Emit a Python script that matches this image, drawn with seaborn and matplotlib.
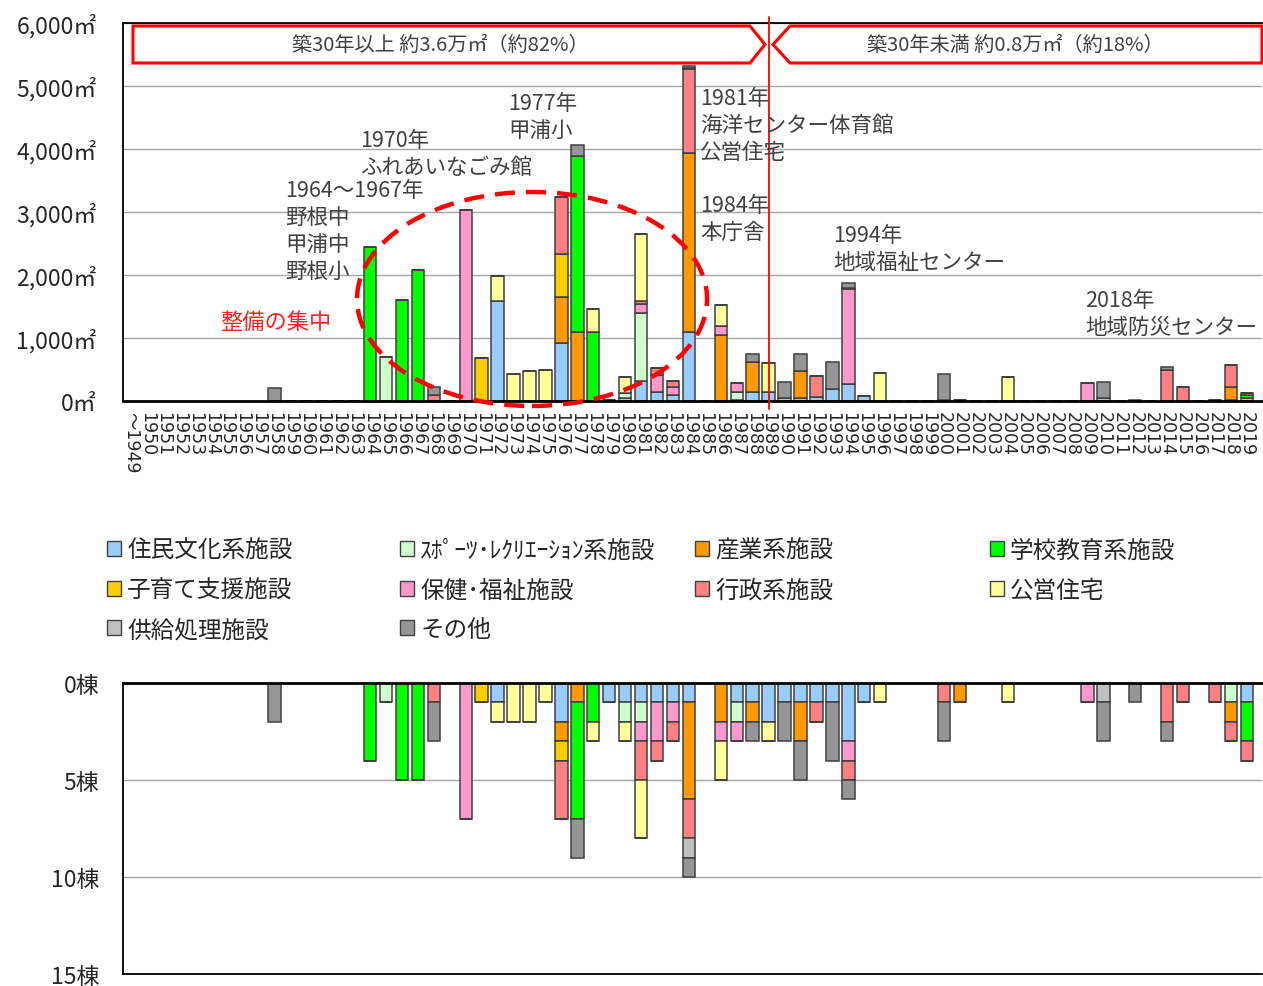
import matplotlib
matplotlib.use("Agg")
import matplotlib.pyplot as plt
import numpy as np
import pandas as pd
import seaborn as sns
from matplotlib.patches import Patch, Polygon, Ellipse

# ---- categories (x axis) ----
years = ["～1949"] + [str(y) for y in range(1950, 2020)]

# ---- facility types, stacking order bottom -> top ----
categories = ["住民文化系施設", "ｽﾎﾟｰﾂ･ﾚｸﾘｴｰｼｮﾝ系施設", "産業系施設", "学校教育系施設",
              "子育て支援施設", "保健･福祉施設", "行政系施設", "公営住宅",
              "供給処理施設", "その他"]
colors = ["#99CCFF", "#CCFFCC", "#FF9900", "#00FF00", "#FFCC00",
          "#FF99CC", "#FF8080", "#FFFF99", "#C0C0C0", "#969696"]

# ---- floor area by construction year (m2) ----
area_culture = {1972: 1580, 1976: 915, 1979: 15, 1980: 40, 1981: 325, 1982: 135, 1983: 90,
                1984: 1090, 1987: 20, 1988: 135, 1989: 135, 1990: 40, 1991: 55, 1992: 70,
                1993: 190, 1994: 265, 1995: 80, 2019: 55}
area_sports = {1965: 700, 1980: 80, 1981: 1075, 1987: 130, 2018: 10}
area_industry = {1976: 735, 1977: 1090, 1984: 2840, 1986: 1050, 1988: 490, 1991: 425,
                 2001: 10, 2018: 215}
area_school = {1964: 2450, 1966: 1600, 1967: 2080, 1977: 2795, 1978: 1090, 2019: 40}
area_childcare = {1971: 680, 1976: 685}
area_welfare = {1970: 3030, 1981: 145, 1982: 280, 1983: 140, 1986: 145, 1987: 130,
                1994: 1505, 2009: 280}
area_admin = {1968: 100, 1976: 900, 1981: 50, 1982: 115, 1983: 95, 1984: 1340, 1992: 330,
              1994: 30, 2000: 15, 2014: 500, 2015: 215, 2017: 10, 2018: 345, 2019: 25}
area_housing = {1972: 410, 1973: 430, 1974: 470, 1975: 490, 1978: 375, 1980: 260,
                1981: 1055, 1986: 325, 1989: 475, 1996: 440, 2004: 375}
area_utility = {1984: 15, 2010: 50}
area_other = {1958: 210, 1968: 120, 1977: 185, 1984: 25, 1988: 120, 1990: 255, 1991: 265,
              1993: 435, 1994: 70, 2000: 410, 2010: 245, 2012: 10, 2014: 45}

# ---- number of buildings by construction year ----
count_culture = {1972: 1, 1976: 2, 1979: 1, 1980: 1, 1981: 1, 1982: 1, 1983: 1, 1984: 1,
                 1987: 1, 1988: 1, 1989: 2, 1990: 1, 1991: 1, 1992: 1, 1993: 1, 1994: 3,
                 1995: 1, 2019: 1}
count_sports = {1965: 1, 1980: 1, 1981: 1, 1987: 1, 2018: 1}
count_industry = {1976: 1, 1977: 1, 1984: 5, 1986: 2, 1988: 1, 1991: 2, 2001: 1, 2018: 1}
count_school = {1964: 4, 1966: 5, 1967: 5, 1977: 6, 1978: 2, 2019: 2}
count_childcare = {1971: 1, 1976: 1}
count_welfare = {1970: 7, 1981: 1, 1982: 2, 1983: 1, 1986: 1, 1987: 1, 1994: 1, 2009: 1}
count_admin = {1968: 1, 1976: 3, 1981: 2, 1982: 1, 1983: 1, 1984: 2, 1992: 1, 1994: 1,
               2000: 1, 2014: 2, 2015: 1, 2017: 1, 2018: 1, 2019: 1}
count_housing = {1972: 1, 1973: 2, 1974: 2, 1975: 1, 1978: 1, 1980: 1, 1981: 3, 1986: 2,
                 1989: 1, 1996: 1, 2004: 1}
count_utility = {1984: 1, 2010: 1}
count_other = {1958: 2, 1968: 2, 1977: 2, 1984: 1, 1988: 1, 1990: 2, 1991: 2, 1993: 3,
               1994: 1, 2000: 2, 2010: 2, 2012: 1, 2014: 1}

area_tables = [area_culture, area_sports, area_industry, area_school, area_childcare,
               area_welfare, area_admin, area_housing, area_utility, area_other]
count_tables = [count_culture, count_sports, count_industry, count_school, count_childcare,
                count_welfare, count_admin, count_housing, count_utility, count_other]

ytick_area = [0, 1000, 2000, 3000, 4000, 5000, 6000]
ytick_area_labels = ["0㎡", "1,000㎡", "2,000㎡", "3,000㎡", "4,000㎡", "5,000㎡", "6,000㎡"]
ytick_count = [0, 5, 10, 15]
ytick_count_labels = ["0棟", "5棟", "10棟", "15棟"]

split_year = 1989
header_old = "築30年以上 約3.6万㎡（約82%）"
header_new = "築30年未満 約0.8万㎡（約18%）"

# (x in category slots, y in m2, text)
notes = [
    (9.67, 3524, "1964～1967年\n野根中\n甲浦中\n野根小"),
    (14.37, 4317, "1970年\nふれあいなごみ館"),
    (23.66, 4905, "1977年\n甲浦小"),
    (35.71, 4984, "1981年\n海洋センター体育館\n公営住宅"),
    (35.71, 3286, "1984年\n本庁舎"),
    (44.05, 2810, "1994年\n地域福祉センター"),
    (59.86, 1778, "2018年\n地域防災センター"),
]


def pos_of(year):
    return max(year - 1949, 0)


def long_frame(tables, value_name):
    rows = []
    for cat, table in zip(categories, tables):
        for yr, v in table.items():
            rows.append({"pos": pos_of(yr), "category": cat, value_name: v})
    return pd.DataFrame(rows)


df_area = long_frame(area_tables, "area")
df_count = long_frame(count_tables, "count")
palette = dict(zip(categories, colors))

sns.set_theme(style="white")
plt.rcParams["font.family"] = ["Noto Sans CJK JP", "DejaVu Sans"]
plt.rcParams["axes.unicode_minus"] = False

W, H = 1263, 987
fig = plt.figure(figsize=(W / 100, H / 100), dpi=100)
ax_top = fig.add_axes([123 / W, 1 - 402 / H, (1262 - 123) / W, (402 - 24) / H])
ax_bot = fig.add_axes([123 / W, 1 - 975 / H, (1262 - 123) / W, (975 - 684) / H])

edge = "#404040"
common = dict(x="pos", hue="category", hue_order=categories[::-1], multiple="stack",
              discrete=True, shrink=0.78, palette=palette, edgecolor=edge,
              linewidth=1.1, alpha=1, legend=False)
sns.histplot(data=df_area, weights="area", ax=ax_top, **common)
sns.histplot(data=df_count, weights="count", ax=ax_bot, **common)

xmax = len(years) - 0.05
text_col = "#404040"
for ax in (ax_top, ax_bot):
    ax.set_xlim(-0.5, xmax)
    ax.set_xlabel("")
    ax.set_ylabel("")
    ax.yaxis.grid(True, color="#A6A6A6", linewidth=1.0)
    ax.xaxis.grid(False)
    ax.set_axisbelow(True)
    ax.tick_params(length=0)
    for s in ax.spines.values():
        s.set_color("black")
    ax.spines["right"].set_visible(False)

# upper chart: floor area
ax_top.set_ylim(0, 6000)
ax_top.set_yticks(ytick_area)
ax_top.set_yticklabels(ytick_area_labels, fontsize=16.5, color="#262626")
ax_top.tick_params(axis="y", pad=19)
ax_top.spines["bottom"].set_linewidth(2.0)
ax_top.spines["left"].set_linewidth(1.3)
ax_top.spines["top"].set_linewidth(1.3)
ax_top.set_xticks(range(len(years)))
ax_top.set_xticklabels(years, rotation=-90, fontsize=12.5, color="#262626",
                       family=["DejaVu Sans", "Noto Sans CJK JP"], va="top", ha="center")
ax_top.tick_params(axis="x", pad=7)

# lower chart: number of buildings, hanging downward
ax_bot.set_ylim(15, 0)
ax_bot.set_yticks(ytick_count)
ax_bot.set_yticklabels(ytick_count_labels, fontsize=16.5, color="#262626")
ax_bot.tick_params(axis="y", pad=17)
ax_bot.set_xticks([])
ax_bot.spines["top"].set_linewidth(2.0)
ax_bot.spines["left"].set_linewidth(1.3)
ax_bot.spines["bottom"].set_linewidth(1.3)

# 30-year boundary
ax_top.axvline(pos_of(split_year), ymin=-0.021, ymax=1.016, color="red",
               linewidth=1.3, clip_on=False, zorder=6)

# annotations
for xv, yv, txt in notes:
    ax_top.text(xv, yv, txt, fontsize=15.5, color=text_col,
                ha="left", va="top", linespacing=1.3, zorder=7)
ax_top.text(5.59, 1270, "整備の集中", fontsize=16, color="#FF2020",
            ha="left", va="center", zorder=7)

# dashed ellipse around the concentration period
ax_top.add_patch(Ellipse((25.16, 1619), 21.96, 3397, fill=False, edgecolor="red",
                         linewidth=3.2, linestyle=(0, (4.5, 2.5)), zorder=8, clip_on=False))


# header arrow boxes
def fx(px):
    return px / W


def fy(py):
    return 1 - py / H


left_box = [(133, 27), (750, 27), (765, 45.5), (750, 64), (133, 64)]
right_box = [(790, 27), (1262, 27), (1262, 64), (790, 64), (773, 45.5)]
for pts in (left_box, right_box):
    fig.add_artist(Polygon([(fx(x), fy(y)) for x, y in pts], closed=True,
                           transform=fig.transFigure, facecolor="white",
                           edgecolor="#FF0000", linewidth=2.2, zorder=9))
fig.text(fx(440), fy(45.5), header_old, fontsize=14.5, color=text_col,
         ha="center", va="center", zorder=10)
fig.text(fx(1015), fy(45.5), header_new, fontsize=14.5, color=text_col,
         ha="center", va="center", zorder=10)

# legend, laid out as four columns
handles = [Patch(facecolor=c, edgecolor=edge, linewidth=1.0) for c in colors]
col_items = [[0, 4, 8], [1, 5, 9], [2, 6], [3, 7]]
col_x = [107, 400, 695, 990]
for xs, items in zip(col_x, col_items):
    fig.legend([handles[i] for i in items], [categories[i] for i in items],
               loc="upper left", bbox_to_anchor=(fx(xs), fy(540)), ncol=1,
               frameon=False, fontsize=17, handlelength=0.6, handleheight=0.6,
               handletextpad=0.25, labelspacing=0.7, borderpad=0, borderaxespad=0,
               labelcolor="#262626")

fig.savefig("out.png", dpi=100)
